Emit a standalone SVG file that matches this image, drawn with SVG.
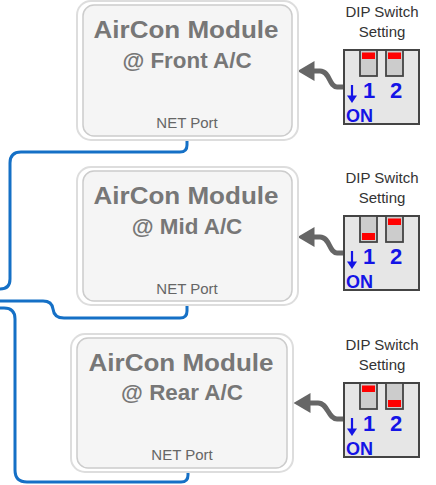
<svg xmlns="http://www.w3.org/2000/svg" width="436" height="485" viewBox="0 0 436 485">
<style>
.outer{fill:#ffffff;stroke:#dddddd;stroke-width:2}
.inner{fill:#f5f5f5;stroke:#cccccc;stroke-width:1.5}
.t1{font-family:"Liberation Sans",Arial,sans-serif;font-weight:bold;font-size:23px;fill:#777777;text-anchor:middle}
.t2{font-family:"Liberation Sans",Arial,sans-serif;font-weight:bold;font-size:22.4px;fill:#777777;text-anchor:middle}
.port{font-family:"Liberation Sans",Arial,sans-serif;font-size:15px;fill:#666666;text-anchor:middle}
.lbl{font-family:"Liberation Sans",Arial,sans-serif;font-size:15px;fill:#333333;text-anchor:middle}
.dip{fill:#e6e6e6;stroke:#444444;stroke-width:2}
.slot{fill:#cccccc;stroke:#444444;stroke-width:1.8}
.red{fill:#ff0000}
.num{font-family:"Liberation Sans",Arial,sans-serif;font-weight:bold;font-size:22px;fill:#1414e6;text-anchor:middle}
.on{font-family:"Liberation Sans",Arial,sans-serif;font-weight:bold;font-size:18px;fill:#1414e6}
.blue{fill:#1414e6;stroke:none}
.bluel{stroke:#1414e6;stroke-width:2.2;fill:none}
.conn{fill:none;stroke:#1570c6;stroke-width:3;stroke-linejoin:round}
.arr{fill:none;stroke:#666666;stroke-width:5}
</style>
<defs>
<marker id="ah" markerUnits="userSpaceOnUse" markerWidth="18" markerHeight="22" viewBox="0 0 18 22" refX="0.5" refY="11" orient="auto">
<path d="M0,1 L17,11 L0,21 Z" fill="#666666"/>
</marker>
<g id="dipbase">
<rect class="dip" x="0" y="0" width="75" height="74"/>
<rect class="slot" x="16" y="0" width="17" height="26"/>
<rect class="slot" x="42" y="0" width="17" height="26"/>
<text class="num" x="25" y="48">1</text>
<text class="num" x="52" y="48">2</text>
<line class="bluel" x1="8" y1="35" x2="8" y2="47"/>
<path class="blue" d="M3,45.5 L13,45.5 L8,53 Z"/>
<text class="on" x="2" y="72">ON</text>
<text class="lbl" x="38" y="-33">DIP Switch</text>
<text class="lbl" x="38" y="-13">Setting</text>
</g>
</defs>

<g id="connectors">
<path class="conn" d="M187,139 V145 Q187,152 180,152 H21 Q10,152 10,163 V279 Q10,289 0,289 H-3"/>
<path class="conn" d="M-3,301 H43 Q52,301 53,309 Q54,318 64,318 H180 Q187,318 187,311 V305"/>
<path class="conn" d="M-3,308 H4 Q15,308 15,319 V470 Q15,482 27,482 H181 Q188,482 188,475 V472"/>
<path class="arr" marker-end="url(#ah)" d="M345,87 H337 C329,87 330,71 320,71 H314"/>
<path class="arr" marker-end="url(#ah)" d="M345,253 H337 C329,253 330,237 320,237 H314"/>
<path class="arr" marker-end="url(#ah)" d="M345,419 H337 C328,419 328,403 318,403 H310"/>
</g>

<g id="module-front">
<rect class="outer" x="77" y="1" width="221" height="139" rx="14"/>
<rect class="inner" x="83" y="5" width="209" height="131" rx="11"/>
<text class="t1" x="186" y="38" textLength="185" lengthAdjust="spacingAndGlyphs">AirCon Module</text>
<text class="t2" x="187" y="68">@ Front A/C</text>
<text class="port" x="187" y="128">NET Port</text>
</g>

<g id="module-mid">
<rect class="outer" x="77" y="167" width="221" height="138" rx="14"/>
<rect class="inner" x="83" y="171" width="209" height="130" rx="11"/>
<text class="t1" x="186" y="204" textLength="185" lengthAdjust="spacingAndGlyphs">AirCon Module</text>
<text class="t2" x="187" y="234">@ Mid A/C</text>
<text class="port" x="187" y="294">NET Port</text>
</g>

<g id="module-rear">
<rect class="outer" x="71" y="334" width="222" height="138" rx="14"/>
<rect class="inner" x="77" y="338" width="210" height="130" rx="11"/>
<text class="t1" x="181" y="371" textLength="185" lengthAdjust="spacingAndGlyphs">AirCon Module</text>
<text class="t2" x="182" y="400">@ Rear A/C</text>
<text class="port" x="182" y="460">NET Port</text>
</g>

<g id="dip-front" transform="translate(344,50)">
<use href="#dipbase"/>
<rect class="red" x="18" y="2.5" width="13" height="6.5"/>
<rect class="red" x="44" y="2.5" width="13" height="6.5"/>
</g>

<g id="dip-mid" transform="translate(344,216)">
<use href="#dipbase"/>
<rect class="red" x="18" y="17" width="13" height="7"/>
<rect class="red" x="44" y="2.5" width="13" height="6.5"/>
</g>

<g id="dip-rear" transform="translate(344,383)">
<use href="#dipbase"/>
<rect class="red" x="18" y="2.5" width="13" height="6.5"/>
<rect class="red" x="44" y="17" width="13" height="7"/>
</g>
</svg>
